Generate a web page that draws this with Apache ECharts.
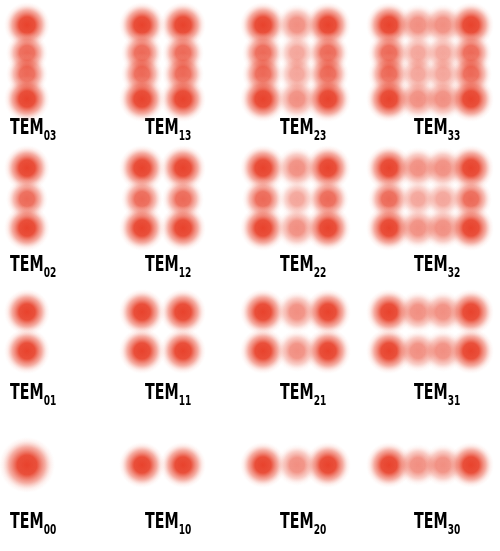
<!DOCTYPE html>
<html><head><meta charset="utf-8">
<script src="https://cdn.jsdelivr.net/npm/echarts@6/dist/echarts.min.js"></script>
<style>html,body{margin:0;background:#fff}#c{width:500px;height:551px}</style>
</head><body><div id="c"></div>
<script>
// lobe centres per mode index m (columns) and n (rows)
const colX = [[27], [142, 183], [263, 297, 328], [389, 418, 443, 471]];
const rowY = [[465], [312, 351], [168, 199, 228], [25, 53, 74, 99]];
const labelX = [10, 145, 280, 414];
const labelY = [522, 393, 265, 128];
const innerLevel = 0.6;

let lobes = [];
for (let m = 0; m < 4; m++) {
    for (let n = 0; n < 4; n++) {
        colX[m].forEach((x, i) => {
            rowY[n].forEach((y, j) => {
                const outerX = i === 0 || i === colX[m].length - 1;
                const outerY = j === 0 || j === rowY[n].length - 1;
                const w = (outerX ? 1 : innerLevel) * (outerY ? 1 : 0.8);
                let size = (outerX && outerY) ? 46 : (outerX || outerY ? 42 : 38);
                if (m === 0 && n === 0) size = 56;
                lobes.push({ value: [x, y], symbolSize: size, w: w });
            });
        });
    }
}

const font = "'DejaVu Sans Condensed', 'Liberation Sans Narrow', sans-serif";
let texts = [];
for (let m = 0; m < 4; m++) {
    for (let n = 0; n < 4; n++) {
        texts.push({
            type: "text", x: labelX[m], y: labelY[n], scaleX: 0.72,
            style: {
                text: "{t|TEM}{s|" + m + n + "}",
                verticalAlign: "middle",
                rich: {
                    t: { font: "bold 22px " + font, fill: "#000" },
                    s: { font: "bold 14px " + font, fill: "#000", padding: [16, 0, 0, 0] }
                }
            }
        });
    }
}

const chart = echarts.init(document.getElementById("c"));
chart.setOption({
    animation: false,
    grid: { left: 0, right: 0, top: 0, bottom: 0 },
    xAxis: { type: "value", min: 0, max: 500, show: false },
    yAxis: { type: "value", min: 0, max: 551, inverse: true, show: false },
    graphic: texts,
    series: [
        {
            type: "scatter",
            symbol: "circle",
            data: lobes.map(d => ({
                value: d.value,
                symbolSize: d.symbolSize,
                itemStyle: {
                    opacity: 1,
                    color: {
                        type: "radial", x: 0.5, y: 0.5, r: 0.5,
                        colorStops: [
                            { offset: 0, color: "rgba(232,66,44," + d.w + ")" },
                            { offset: 0.35, color: "rgba(232,70,48," + (0.95 * d.w) + ")" },
                            { offset: 0.65, color: "rgba(236,96,76," + (0.5 * d.w) + ")" },
                            { offset: 0.85, color: "rgba(244,150,135," + (0.15 * d.w) + ")" },
                            { offset: 1, color: "rgba(250,190,180,0)" }
                        ]
                    }
                }
            }))
        }
    ]
});
</script></body></html>
